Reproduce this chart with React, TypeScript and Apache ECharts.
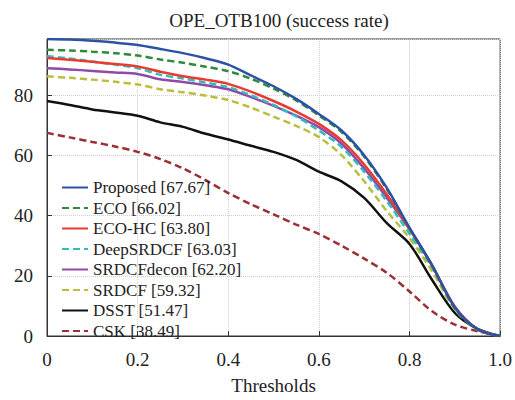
import React, { useEffect, useRef } from "react";
import * as echarts from "echarts";

const thresholds = [0, 0.05, 0.1, 0.15, 0.2, 0.25, 0.3, 0.35, 0.4, 0.45, 0.5, 0.55, 0.6, 0.65, 0.7, 0.75, 0.8, 0.85, 0.9, 0.95, 1.0];

const proposed = [98.7, 98.5, 98.1, 97.5, 96.7, 95.4, 94.0, 92.3, 90.2, 86.6, 83.0, 78.8, 73.8, 68.3, 60.1, 49.2, 36.0, 23.5, 9.5, 2.3, 0];
const eco = [95.1, 94.9, 94.5, 94.0, 93.2, 91.9, 90.8, 89.5, 88.0, 85.5, 82.2, 78.3, 73.3, 67.8, 59.6, 48.8, 35.8, 23.3, 9.3, 2.2, 0];
const ecoHc = [92.4, 91.8, 91.1, 90.4, 89.6, 87.8, 86.3, 85.2, 83.8, 81.2, 78.1, 74.6, 70.5, 65.0, 57.0, 47.0, 35.5, 23.3, 9.6, 2.3, 0];
const deepSrdcf = [93.0, 92.2, 91.2, 90.2, 89.0, 86.8, 85.6, 84.2, 82.7, 80.0, 76.8, 73.0, 68.3, 62.8, 54.6, 44.8, 34.0, 22.8, 9.2, 2.2, 0];
const srdcfDecon = [89.0, 88.6, 88.1, 87.6, 87.1, 85.3, 84.4, 83.3, 82.0, 79.4, 76.5, 73.2, 69.4, 63.9, 55.7, 45.9, 35.5, 23.5, 9.8, 2.3, 0];
const srdcf = [86.3, 85.8, 85.2, 84.5, 83.6, 82.0, 81.0, 79.9, 78.4, 75.9, 72.9, 69.8, 66.1, 60.1, 51.4, 41.5, 32.5, 21.5, 8.8, 2.2, 0];
const dsst = [78.1, 76.8, 75.3, 74.3, 73.2, 71.0, 69.5, 67.2, 65.3, 63.2, 61.2, 58.5, 54.6, 51.4, 45.9, 37.5, 30.6, 18.6, 7.7, 2.4, 0];
const csk = [67.5, 66.0, 64.5, 63.0, 61.2, 58.8, 55.7, 51.8, 47.5, 43.8, 40.4, 37.0, 33.9, 30.0, 25.7, 21.0, 14.8, 8.2, 3.8, 1.6, 0];

const names = [
  "Proposed [67.67]",
  "ECO [66.02]",
  "ECO-HC [63.80]",
  "DeepSRDCF [63.03]",
  "SRDCFdecon [62.20]",
  "SRDCF [59.32]",
  "DSST [51.47]",
  "CSK [38.49]",
];
const values = [proposed, eco, ecoHc, deepSrdcf, srdcfDecon, srdcf, dsst, csk];
const colors = ["#2d52a5", "#2f8a3c", "#ea3a2f", "#2fbdbd", "#9448a6", "#bdbd3c", "#111111", "#9b2f33"];
const dashed = [false, true, false, true, false, true, false, true];

const FONT = "Liberation Serif";

export default function App() {
  const ref = useRef<HTMLDivElement>(null);
  useEffect(() => {
    document.body.style.margin = "0";
    if (!ref.current) return;
    const chart = echarts.init(ref.current, undefined, { renderer: "svg" });
    chart.setOption({
      animation: false,
      backgroundColor: "#ffffff",
      title: {
        text: "OPE_OTB100 (success rate)",
        left: 274,
        textAlign: "center",
        top: 6,
        textStyle: { fontFamily: FONT, fontSize: 19, fontWeight: 400, color: "#222" },
      },
      grid: {
        left: 47,
        right: 14,
        top: 39,
        bottom: 60,
        show: true,
        borderColor: "#333",
        borderWidth: 1,
        backgroundColor: "transparent",
      },
      legend: {
        orient: "vertical",
        left: 56,
        top: 174,
        itemWidth: 26,
        itemHeight: 8,
        itemGap: 3.5,
        itemStyle: { opacity: 0 },
        textStyle: { fontFamily: FONT, fontSize: 17, fontWeight: 400, color: "#222" },
        data: names,
      },
      xAxis: {
        type: "value",
        min: 0,
        max: 1,
        interval: 0.2,
        name: "Thresholds",
        nameLocation: "middle",
        nameGap: 40,
        nameTextStyle: { fontFamily: FONT, fontSize: 19, fontWeight: 400, color: "#222" },
        axisLine: { show: true, lineStyle: { color: "#333", width: 1 } },
        axisTick: { show: true, inside: true, length: 5, lineStyle: { color: "#333" } },
        axisLabel: {
          fontFamily: FONT,
          fontSize: 19,
          fontWeight: 400,
          color: "#222",
          margin: 14,
          formatter: (v: number) => (v === 0 ? "0" : v.toFixed(1)),
        },
        splitLine: { show: true, lineStyle: { color: "#cfcfcf", type: "dotted", width: 1 } },
      },
      yAxis: {
        type: "value",
        min: 0,
        max: 98.7,
        interval: 20,
        axisLine: { show: true, lineStyle: { color: "#333", width: 1 } },
        axisTick: { show: true, inside: true, length: 5, lineStyle: { color: "#333" } },
        axisLabel: {
          fontFamily: FONT,
          fontSize: 19,
          fontWeight: 400,
          color: "#222",
          margin: 14,
          formatter: (v: number) => (Math.abs(v % 20) < 1e-6 ? String(v) : ""),
        },
        splitLine: { show: true, lineStyle: { color: "#cfcfcf", type: "dotted", width: 1 } },
      },
      series: names.map((n, i) => ({
        name: n,
        type: "line",
        data: thresholds.map((t, j) => [t, values[i][j]]),
        symbol: "circle",
        showSymbol: false,
        smooth: 0.3,
        color: colors[i],
        lineStyle: {
          color: colors[i],
          width: 2.5,
          type: dashed[i] ? [7, 4] : "solid",
        },
        z: 10 - i,
      })),
    });
    return () => chart.dispose();
  }, []);
  return <div ref={ref} style={{ width: 515, height: 400 }} />;
}
